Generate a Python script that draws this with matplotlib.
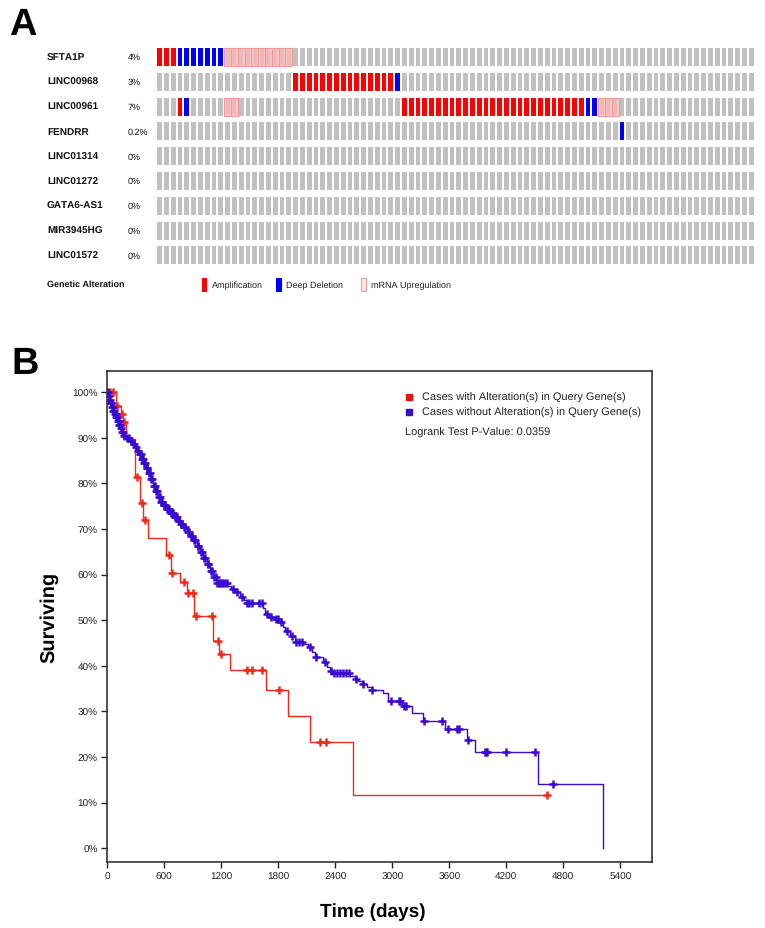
import numpy as np
import matplotlib
matplotlib.use("Agg")
import matplotlib.pyplot as plt
from matplotlib.patches import Rectangle
from matplotlib.transforms import blended_transform_factory

plt.rcParams["font.family"] = ["Liberation Sans", "DejaVu Sans"]
plt.rcParams["text.hinting"] = "no_hinting"
plt.rcParams["text.hinting_factor"] = 1

W, H = 765, 929

# ---- panel A data ----
genes = ["SFTA1P", "LINC00968", "LINC00961", "FENDRR", "LINC01314",
         "LINC01272", "GATA6-AS1", "MIR3945HG", "LINC01572"]
freqs = ["4%", "3%", "7%", "0.2%", "0%", "0%", "0%", "0%", "0%"]
n_samples = 88
amplification = {
    "SFTA1P": [0, 1, 2],
    "LINC00968": list(range(20, 35)),
    "LINC00961": [3] + list(range(36, 63)),
}
deep_deletion = {
    "SFTA1P": [3, 4, 5, 6, 7, 8, 9],
    "LINC00968": [35],
    "LINC00961": [4, 63, 64],
    "FENDRR": [68],
}
mrna_up = {
    "SFTA1P": list(range(10, 20)),
    "LINC00961": [10, 11, 65, 66, 67],
}

# ---- panel B data ----
red_times = [0, 88, 140, 165, 195, 292, 340, 375, 425, 615, 675, 765, 840,
             910, 1110, 1180, 1292, 1668, 1906, 2135, 2591, 4627]
red_surv = [1.0, 0.97, 0.952, 0.934, 0.897, 0.814, 0.757, 0.72, 0.681, 0.643,
            0.604, 0.583, 0.56, 0.51, 0.455, 0.425, 0.392, 0.348, 0.291, 0.233,
            0.117, 0.117]
red_censor = [30, 63, 100, 152, 172, 317, 362, 400, 650, 685, 811, 853, 899,
              934, 1097, 1162, 1197, 1468, 1520, 1626, 1808, 2240, 2303, 4627]

blue_times = [0, 8, 18, 30, 45, 60, 75, 90, 105, 120, 135, 150, 168, 200, 239,
              265, 292, 315, 340, 362, 385, 410, 435, 460, 484, 505, 530, 560,
              590, 625, 660, 700, 740, 770, 800, 836, 870, 905, 941, 976, 1010,
              1047, 1080, 1116, 1152, 1265, 1300, 1345, 1400, 1440, 1468, 1640,
              1661, 1700, 1766, 1819, 1850, 1871, 1924, 1977, 2060, 2117, 2150,
              2187, 2275, 2310, 2345, 2370, 2560, 2608, 2640, 2678, 2730, 2784,
              2900, 2950, 3100, 3205, 3328, 3556, 3784, 3872, 4535, 5213]
blue_surv = [1.0, 0.992, 0.984, 0.976, 0.968, 0.96, 0.952, 0.945, 0.937, 0.929,
             0.921, 0.913, 0.905, 0.899, 0.894, 0.887, 0.88, 0.872, 0.864,
             0.854, 0.845, 0.834, 0.822, 0.809, 0.795, 0.783, 0.77, 0.76,
             0.752, 0.744, 0.736, 0.727, 0.718, 0.711, 0.704, 0.693, 0.684,
             0.675, 0.664, 0.649, 0.636, 0.623, 0.608, 0.594, 0.582, 0.575,
             0.568, 0.561, 0.552, 0.544, 0.538, 0.526, 0.514, 0.508, 0.502,
             0.496, 0.486, 0.477, 0.466, 0.453, 0.447, 0.441, 0.43, 0.419,
             0.408, 0.398, 0.389, 0.384, 0.378, 0.371, 0.366, 0.36, 0.354,
             0.348, 0.34, 0.324, 0.311, 0.296, 0.279, 0.262, 0.238, 0.212,
             0.142, 0.0]
blue_censor = [5, 15, 20, 28, 35, 42, 50, 58, 65, 72, 80, 88, 95, 102, 110,
               118, 125, 132, 145, 155, 165, 175, 210, 230, 250, 280, 300, 325,
               345, 350, 365, 372, 390, 398, 415, 420, 440, 448, 465, 472, 490,
               498, 510, 520, 540, 550, 565, 575, 600, 610, 630, 640, 650, 670,
               680, 690, 710, 720, 730, 750, 760, 780, 790, 810, 820, 845, 855,
               880, 890, 915, 925, 950, 960, 985, 995, 1020, 1030, 1055, 1065,
               1090, 1100, 1125, 1140, 1160, 1175, 1190, 1205, 1220, 1240, 1255,
               1320, 1365, 1420, 1470, 1490, 1520, 1600, 1625, 1680, 1720, 1780,
               1800, 1830, 1890, 1940, 1990, 2020, 2045, 2130, 2200, 2290, 2355,
               2390, 2420, 2450, 2480, 2510, 2540, 2620, 2690, 2790, 2990, 3070,
               3080, 3120, 3140, 3338, 3524, 3591, 3679, 3700, 3795, 3977, 3990,
               4001, 4198, 4507, 4697]


def fx(x):
    return x / W


def fy(y):
    return 1 - y / H


def km_at(times, surv, t):
    idx = np.searchsorted(times, t, side="right") - 1
    return np.asarray(surv)[idx]


fig = plt.figure(figsize=(W / 100, H / 100), dpi=100)
fig.patch.set_facecolor("white")

# ---------- panel A: oncoprint ----------
ax1 = fig.add_axes([fx(156.15), fy(268.8), (754.55 - 156.15) / W, (268.8 - 45.6) / H])
ax1.set_xlim(-0.5, n_samples - 0.5)
ax1.set_ylim(len(genes) - 0.5, -0.5)
ax1.axis("off")

cols = np.arange(n_samples)
bw, bh = 0.72, 0.73
grey, red, blue = "#c0c0c0", "#ff0000", "#0000ff"
for i, g in enumerate(genes):
    ax1.bar(cols, bh, bottom=i - bh / 2, width=bw, color=grey, linewidth=0)
    if g in amplification:
        ax1.bar(amplification[g], bh, bottom=i - bh / 2, width=bw, color=red, linewidth=0)
    if g in deep_deletion:
        ax1.bar(deep_deletion[g], bh, bottom=i - bh / 2, width=bw, color=blue, linewidth=0)
    if g in mrna_up:
        ax1.bar(mrna_up[g], bh, bottom=i - bh / 2, width=1.0, color="#f6c8c8",
                edgecolor="#f09a9a", linewidth=0.8)
        ax1.bar(mrna_up[g], bh * 0.86, bottom=i - bh * 0.43, width=bw * 0.8,
                color="#efb8b8", linewidth=0)

tr = blended_transform_factory(fig.transFigure, ax1.transData)
for i, (g, f) in enumerate(zip(genes, freqs)):
    ax1.text(fx(47), i, g, transform=tr, ha="left", va="center",
             fontsize=7.5, fontweight="bold", color="#111111")
    ax1.text(fx(128), i, f, transform=tr, ha="left", va="center",
             fontsize=6.5, color="#111111")

fig.text(fx(47), fy(285), "Genetic Alteration", ha="left", va="center",
         fontsize=6.5, fontweight="bold", color="#111111")
legend_items = [("Amplification", red, red, 202), ("Deep Deletion", blue, blue, 276),
                ("mRNA Upregulation", "#fbe6e6", "#f09a9a", 361)]
for label, fc, ec, x0 in legend_items:
    fig.add_artist(Rectangle((fx(x0), fy(292)), 4.5 / W, 13 / H, facecolor=fc,
                             edgecolor=ec, linewidth=0.8, transform=fig.transFigure))
    fig.text(fx(x0 + 10), fy(285.5), label, ha="left", va="center",
             fontsize=6.5, color="#222222")

fig.text(fx(9), fy(25), "A", ha="left", va="center", fontsize=27, fontweight="bold")
fig.text(fx(11), fy(364), "B", ha="left", va="center", fontsize=27, fontweight="bold")

# ---------- panel B: Kaplan-Meier ----------
ax2 = fig.add_axes([fx(107.3), fy(862.7), (652 - 107.3) / W, (862.7 - 372) / H])
red_c, blue_c = "#f02a1a", "#3a0ad0"
ax2.step(red_times, red_surv, where="post", color=red_c, lw=1.0)
ax2.step(blue_times, blue_surv, where="post", color=blue_c, lw=1.0)
ax2.plot(red_censor, km_at(red_times, red_surv, red_censor), "+", color=red_c,
         ms=6, mew=1.8, ls="none")
ax2.plot(blue_censor, km_at(blue_times, blue_surv, blue_censor), "+", color=blue_c,
         ms=6, mew=1.8, ls="none")

ax2.set_xlim(0, 5734)
ax2.set_ylim(-0.0294, 1.0467)
ax2.set_xticks(np.arange(0, 5401, 600))
ax2.set_yticks(np.arange(0, 1.01, 0.1))
ax2.set_yticklabels([f"{int(round(v * 100))}%" for v in np.arange(0, 1.01, 0.1)])
ax2.tick_params(direction="out", length=4, width=1, labelsize=7.5, pad=3,
                colors="#222222")
for s in ax2.spines.values():
    s.set_color("#333333")
    s.set_linewidth(1.2)

ax2.set_ylabel("Surviving", fontsize=14.5, fontweight="bold", labelpad=10)
fig.text(fx(373), fy(912), "Time (days)", ha="center", va="center",
         fontsize=13.5, fontweight="bold")

ax2.plot([fx(409)], [fy(398)], marker="s", ms=5, color="#e81010",
         transform=fig.transFigure, clip_on=False)
ax2.plot([fx(409)], [fy(412.5)], marker="s", ms=5, color="#3a10c8",
         transform=fig.transFigure, clip_on=False)
fig.text(fx(422), fy(398), "Cases with Alteration(s) in Query Gene(s)",
         ha="left", va="center", fontsize=7.8, color="#222222")
fig.text(fx(422), fy(412.5), "Cases without Alteration(s) in Query Gene(s)",
         ha="left", va="center", fontsize=7.8, color="#222222")
fig.text(fx(405), fy(433), "Logrank Test P-Value: 0.0359",
         ha="left", va="center", fontsize=7.8, color="#222222")

fig.savefig("out.png", dpi=100, facecolor="white")
